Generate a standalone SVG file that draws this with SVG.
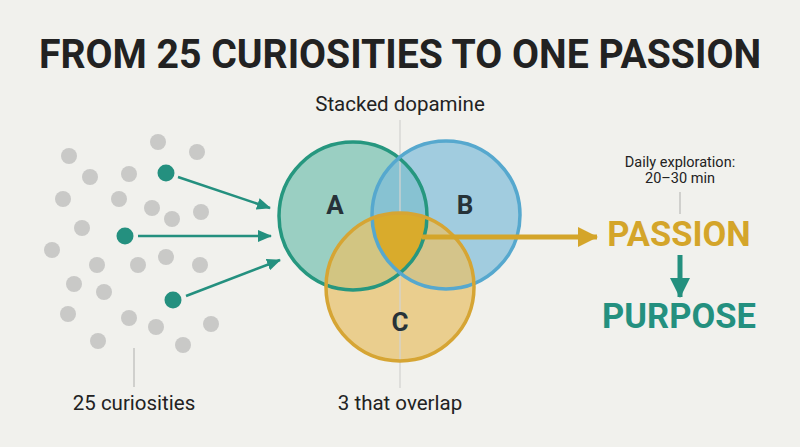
<svg xmlns="http://www.w3.org/2000/svg" width="800" height="447" viewBox="0 0 800 447">
<defs>
<style>
.t{font-family:Roboto,"Liberation Sans",sans-serif;fill:#222;}
.lbl{font-size:20.5px;text-anchor:middle;}
.venn{font-size:26px;font-weight:bold;text-anchor:middle;fill:#263238;}
.gray{fill:#c9c9c7;}
.teal{fill:#24907f;}
.guide{stroke:#c4c4c2;stroke-width:1.5;fill:none;}
.ta{stroke:#24907f;stroke-width:2.5;fill:none;marker-end:url(#ah);}
</style>
<marker id="ah" viewBox="0 0 14 12" refX="13" refY="6" markerWidth="14" markerHeight="12" markerUnits="userSpaceOnUse" orient="auto">
<path d="M0,0 L14,6 L0,12 Z" fill="#24907f"/>
</marker>
<marker id="gh" viewBox="0 0 20 20" refX="19" refY="10" markerWidth="20" markerHeight="20" markerUnits="userSpaceOnUse" orient="auto">
<path d="M0,0 L20,10 L0,20 Z" fill="#d4a52a"/>
</marker>
<marker id="dh" viewBox="0 0 20 20" refX="19" refY="10" markerWidth="20" markerHeight="20" markerUnits="userSpaceOnUse" orient="auto">
<path d="M0,0 L20,10 L0,20 Z" fill="#24907f"/>
</marker>
<clipPath id="clipA"><circle cx="353" cy="216" r="74"/></clipPath>
<clipPath id="clipB"><circle cx="446" cy="215" r="74"/></clipPath>
</defs>
<rect width="800" height="447" fill="#f1f1ed"/>
<text class="t" x="400" y="68" font-size="41" font-weight="bold" text-anchor="middle" textLength="722" lengthAdjust="spacingAndGlyphs">FROM 25 CURIOSITIES TO ONE PASSION</text>

<g id="curiosities">
<circle class="gray" cx="158" cy="142" r="8"/>
<circle class="gray" cx="197" cy="152" r="8"/>
<circle class="gray" cx="69" cy="156" r="8"/>
<circle class="gray" cx="90" cy="177" r="8"/>
<circle class="gray" cx="129" cy="174" r="8"/>
<circle class="gray" cx="63" cy="199" r="8"/>
<circle class="gray" cx="119" cy="199" r="8"/>
<circle class="gray" cx="152" cy="208" r="8"/>
<circle class="gray" cx="172" cy="219" r="8"/>
<circle class="gray" cx="201" cy="212" r="8"/>
<circle class="gray" cx="82" cy="228" r="8"/>
<circle class="gray" cx="52" cy="250" r="8"/>
<circle class="gray" cx="97" cy="265" r="8"/>
<circle class="gray" cx="138" cy="265" r="8"/>
<circle class="gray" cx="166" cy="257" r="8"/>
<circle class="gray" cx="200" cy="265" r="8"/>
<circle class="gray" cx="74" cy="284" r="8"/>
<circle class="gray" cx="104" cy="292" r="8"/>
<circle class="gray" cx="68" cy="314" r="8"/>
<circle class="gray" cx="129" cy="318" r="8"/>
<circle class="gray" cx="156" cy="327" r="8"/>
<circle class="gray" cx="211" cy="324" r="8"/>
<circle class="gray" cx="98" cy="341" r="8"/>
<circle class="gray" cx="183" cy="345" r="8"/>
<circle class="teal" cx="166" cy="173" r="8.5"/>
<circle class="teal" cx="125" cy="236" r="8.5"/>
<circle class="teal" cx="173" cy="300" r="8.5"/>
</g>

<g id="connectors">
<line class="ta" x1="178" y1="177" x2="270" y2="208"/>
<line class="ta" x1="138" y1="236" x2="271" y2="236"/>
<line class="ta" x1="186" y1="296" x2="280" y2="260"/>
<line class="guide" x1="134" y1="348" x2="134" y2="387"/>
<line class="guide" x1="680" y1="192" x2="680" y2="214"/>
</g>

<g id="venn">
<circle cx="353" cy="216" r="74" fill="#7cc3b3" fill-opacity="0.75"/>
<circle cx="446" cy="215" r="74" fill="#7fbcd9" fill-opacity="0.7"/>
<circle cx="400" cy="287" r="74" fill="#e8c06a" fill-opacity="0.72"/>
<line x1="400" y1="120" x2="400" y2="388" stroke="#d2d2cf" stroke-width="1.5" stroke-opacity="0.85"/>
<g clip-path="url(#clipA)"><g clip-path="url(#clipB)"><circle cx="400" cy="287" r="74" fill="#d9ab2c"/></g></g>
<circle cx="353" cy="216" r="74" fill="none" stroke="#26977f" stroke-width="3.5"/>
<circle cx="446" cy="215" r="74" fill="none" stroke="#56a8ce" stroke-width="3.5"/>
<circle cx="400" cy="287" r="74" fill="none" stroke="#d6a534" stroke-width="3.5"/>
<text class="t venn" x="335" y="214">A</text>
<text class="t venn" x="465" y="214">B</text>
<text class="t venn" x="400" y="331">C</text>
</g>

<g id="arrow-passion">
<line x1="422" y1="237" x2="597" y2="237" stroke="#d4a52a" stroke-width="5" marker-end="url(#gh)"/>
</g>

<g id="passion">
<text class="t" x="679" y="246" font-size="34.5" font-weight="bold" text-anchor="middle" style="fill:#d4a52a">PASSION</text>
</g>
<g id="arrow-purpose">
<line x1="680" y1="255" x2="680" y2="297" stroke="#24907f" stroke-width="5" marker-end="url(#dh)"/>
</g>
<g id="purpose">
<text class="t" x="679" y="328" font-size="34.5" font-weight="bold" text-anchor="middle" style="fill:#24907f">PURPOSE</text>
</g>

<g id="labels">
<text class="t lbl" x="400" y="111">Stacked dopamine</text>
<text class="t lbl" x="134" y="410">25 curiosities</text>
<text class="t lbl" x="400" y="410">3 that overlap</text>
<text class="t" x="680" y="167" font-size="14.5" text-anchor="middle">Daily exploration:</text>
<text class="t" x="680" y="183" font-size="14.5" text-anchor="middle">20–30 min</text>
</g>
</svg>
